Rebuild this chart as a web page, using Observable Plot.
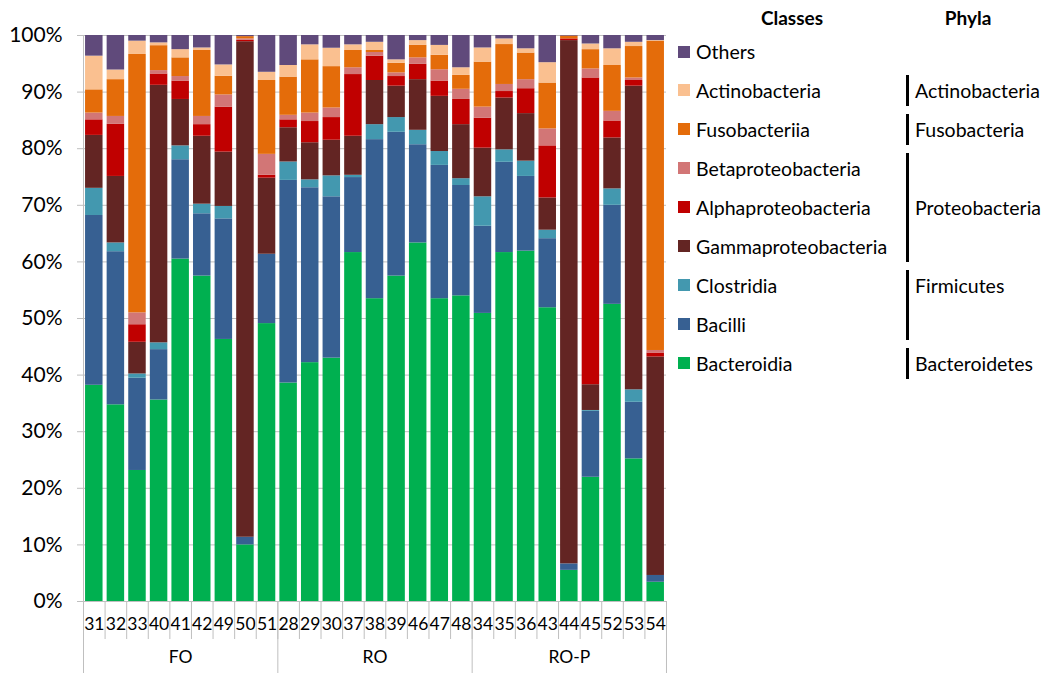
<!DOCTYPE html>
<html><head><meta charset="utf-8">
<script src="https://cdn.jsdelivr.net/npm/d3@7"></script>
<script src="https://cdn.jsdelivr.net/npm/@observablehq/plot@0.6"></script>
<style>
body{margin:0;background:#fff;font-family:Lato,"Open Sans",sans-serif;color:#000}
#wrap{position:relative;width:1047px;height:673px;overflow:hidden;background:#fff}
#chart{position:absolute;left:0;top:0}
.row{position:absolute;left:678px;height:20px;display:flex;align-items:center;font-size:19.5px;white-space:nowrap}
.sw{width:12px;height:12px;margin-right:6px;flex:none}
.hdr{position:absolute;font-weight:bold;font-size:19px;transform:translate(-50%,-50%)}
.br{position:absolute;left:906px;width:3px;background:#000}
.ph{position:absolute;left:915px;font-size:19.5px;transform:translateY(-50%);white-space:nowrap}
</style></head><body>
<div id="wrap"><div id="chart"></div><div id="legend"></div></div>
<script>
// ---- data ----
const foSamples = [31,32,33,40,41,42,49,50,51];
const roSamples = [28,29,30,37,38,39,46,47,48];
const ropSamples = [34,35,36,43,44,45,52,53,54];
const groupNames = ["FO","RO","RO-P"];
const samples = [...foSamples, ...roSamples, ...ropSamples];

const classes = ["Bacteroidia","Bacilli","Clostridia","Gammaproteobacteria","Alphaproteobacteria","Betaproteobacteria","Fusobacteriia","Actinobacteria","Others"];
const colors = ["#00B050","#376092","#4398AF","#632523","#C00000","#D27676","#E46C0A","#FAC090","#604A7B"];

// values (%) per class, in sample order above
const bacteroidia = [38.2,34.75,23.15,35.6,60.5,57.5,46.3,10.0,49.1, 38.6,42.2,43.0,61.65,53.5,57.5,63.35,53.5,54.0, 50.9,61.65,61.9,51.9,5.5,21.95,52.5,25.2,3.4];
const bacilli     = [30.0,27.05,16.3,8.9,17.55,11.0,21.3,1.35,12.25, 35.8,30.9,28.5,13.25,28.1,25.4,17.35,23.55,19.5, 15.4,15.95,13.2,12.2,1.15,11.65,17.5,10.0,1.2];
const clostridia  = [4.8,1.55,0.75,1.2,2.45,1.7,2.2,0,0, 3.25,1.4,3.7,0.4,2.65,2.6,2.55,2.45,1.2, 5.2,2.2,2.7,1.5,0,0.15,2.9,2.2,0];
const gamma       = [9.35,11.75,5.6,45.5,8.2,12.0,9.6,87.55,13.45, 6.05,6.55,6.3,6.9,7.8,5.55,8.95,9.75,9.55, 8.6,9.15,8.4,5.7,92.45,4.55,9.0,53.65,38.6];
const alpha       = [2.75,9.2,3.1,2.0,3.25,2.05,7.95,0.25,0.5, 1.4,3.75,4.0,10.9,4.3,1.7,2.7,2.7,4.45, 5.3,1.15,4.4,9.2,0.3,54.2,3.0,1.0,0.7];
const beta        = [1.2,1.4,2.1,0.6,0.8,1.45,2.15,0.25,3.7, 0.8,1.5,1.7,1.2,0.65,0.65,1.15,2.0,1.8, 1.95,1.25,1.6,3.0,0,1.6,1.7,0.45,0.45];
const fuso        = [4.1,6.5,45.65,4.4,3.3,11.65,3.3,0.4,13.05, 6.75,9.4,7.3,3.05,0.35,1.7,2.2,2.55,2.45, 7.95,7.05,4.7,8.1,0.5,3.4,8.1,5.55,54.65];
const actino      = [5.95,1.7,2.35,0.5,1.45,0.45,2.0,0,1.45, 2.05,2.65,3.25,1.0,1.45,0.6,0.85,1.75,1.35, 2.5,1.0,0.75,3.6,0,1.0,2.95,0.75,0.1];
const others      = [3.65,6.1,1.0,1.3,2.5,2.2,5.2,0.2,6.5, 5.3,1.65,2.25,1.65,1.2,4.3,0.9,1.75,5.7, 2.2,0.6,2.35,4.8,0.1,1.5,2.35,1.2,0.9];
const series = [bacteroidia,bacilli,clostridia,gamma,alpha,beta,fuso,actino,others];

const yTicks = [0,10,20,30,40,50,60,70,80,90,100];

const phyla = ["Actinobacteria","Fusobacteria","Proteobacteria","Firmicutes","Bacteroidetes"];
const phylumClasses = [["Actinobacteria"],["Fusobacteriia"],["Betaproteobacteria","Alphaproteobacteria","Gammaproteobacteria"],["Clostridia","Bacilli"],["Bacteroidia"]];
const phylumLabelClass = ["Actinobacteria","Fusobacteriia","Alphaproteobacteria","Clostridia","Bacteroidia"];

// ---- tidy table ----
const rows = [];
classes.forEach((c, ci) => samples.forEach((s, si) => rows.push({sample: String(s), cls: c, value: series[ci][si]})));
const groups = [foSamples, roSamples, ropSamples].map((g, i) => ({name: groupNames[i], first: String(g[0]), mid: String(g[Math.floor(g.length/2)]), last: String(g[g.length-1])}));

// ---- chart ----
const W = 1047, H = 673, mL = 83, mR = 381, mT = 35, mB = 72;
const frameH = H - mT - mB;
const step = (W - mL - mR) / samples.length;
const grid = "#BFBFBF";

const plot = Plot.plot({
  width: W, height: H, marginLeft: mL, marginRight: mR, marginTop: mT, marginBottom: mB,
  style: {fontFamily: "Lato, 'Open Sans', sans-serif", fontSize: "17px", color: "#000", background: "#fff"},
  x: {domain: samples.map(String), paddingInner: 0.19, paddingOuter: 0.095, round: false, label: null, axis: null},
  y: {domain: [0, 100], label: null, axis: null},
  color: {domain: classes, range: colors},
  marks: [
    Plot.ruleY(yTicks, {y: d => d, stroke: grid, strokeWidth: 1}),
    Plot.barY(rows, {x: "sample", y: "value", fill: "cls", order: null}),
    Plot.axisY({ticks: yTicks, tickFormat: d => d + "%", tickSize: 6, tickPadding: 15, fontSize: 21, stroke: grid, fill: "#000"}),
    Plot.axisX({tickSize: 0, tickPadding: 16, fontSize: 17.5, fill: "#000"}),
    // short separators between sample labels
    Plot.ruleX(samples.map(String), {x: d => d, dx: -step/2, insetTop: frameH, insetBottom: -38, stroke: grid}),
    // group separators
    Plot.ruleX(groups, {x: "first", dx: -step/2, insetTop: frameH, insetBottom: -mB, stroke: grid}),
    Plot.ruleX(groups.slice(-1), {x: "last", dx: step/2, insetTop: frameH, insetBottom: -mB, stroke: grid}),
    // y axis line
    Plot.ruleX(groups.slice(0,1), {x: "first", dx: -step/2, stroke: grid}),
    Plot.text(groups, {x: "mid", frameAnchor: "bottom", dy: 61, text: "name", fontSize: 17.5, fill: "#000"})
  ]
});
document.getElementById("chart").appendChild(plot);

// ---- legend ----
const legend = document.getElementById("legend");
const display = classes.slice().reverse();
const rowCenter = i => 52 + i * 38.95;
display.forEach((c, i) => {
  const r = document.createElement("div");
  r.className = "row";
  r.style.top = (rowCenter(i) - 10.5) + "px";
  const sw = document.createElement("div");
  sw.className = "sw";
  sw.style.background = colors[classes.indexOf(c)];
  r.appendChild(sw);
  r.appendChild(document.createTextNode(c));
  legend.appendChild(r);
});
[["Classes", 792], ["Phyla", 968]].forEach(([t, x]) => {
  const h = document.createElement("div");
  h.className = "hdr"; h.textContent = t;
  h.style.left = x + "px"; h.style.top = "17px";
  legend.appendChild(h);
});
phyla.forEach((p, i) => {
  const idx = phylumClasses[i].map(c => display.indexOf(c));
  const top = rowCenter(Math.min(...idx)) - 16, bot = rowCenter(Math.max(...idx)) + 15;
  const b = document.createElement("div");
  b.className = "br"; b.style.top = top + "px"; b.style.height = (bot - top) + "px";
  legend.appendChild(b);
  const l = document.createElement("div");
  l.className = "ph"; l.textContent = p;
  l.style.top = (rowCenter(display.indexOf(phylumLabelClass[i])) - 1) + "px";
  legend.appendChild(l);
});
</script>
</body></html>
